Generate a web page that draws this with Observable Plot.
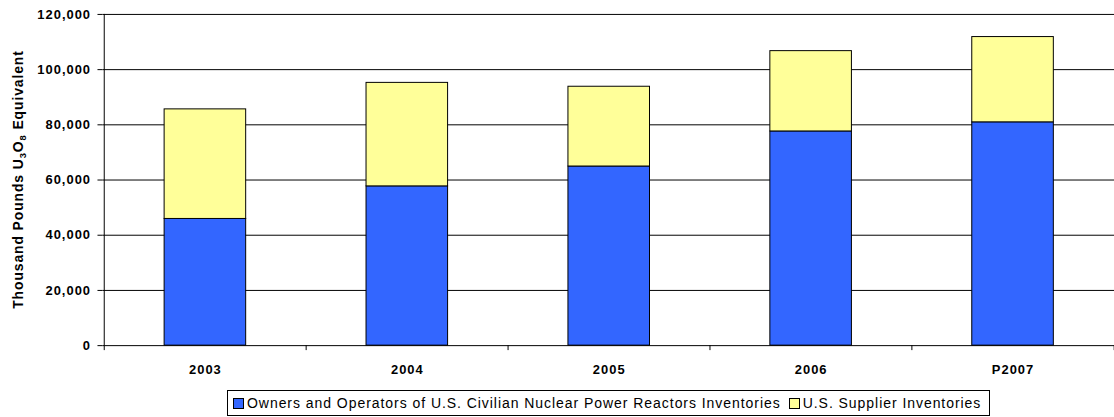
<!DOCTYPE html>
<html>
<head>
<meta charset="utf-8">
<script src="https://cdn.jsdelivr.net/npm/d3@7"></script>
<script src="https://cdn.jsdelivr.net/npm/@observablehq/plot@0.6"></script>
<style>
html, body { margin: 0; padding: 0; overflow: hidden; background: #fff; width: 1114px; height: 417px; }
#chart { position: absolute; left: 0; top: 0; }
#chart svg g text { font-family: "Liberation Sans", Arial, sans-serif !important; font-size: 13px !important; font-weight: bold !important; letter-spacing: 1px; fill: #000; }
#legend { position: absolute; left: 227px; top: 390px; height: 24px; border: 1px solid #000; display: flex; align-items: center; padding: 0 8px 0 5px; font-family: "Liberation Sans", Arial, sans-serif; font-size: 14px; letter-spacing: 0.95px; color: #000; white-space: nowrap; }
.sw { display: inline-block; width: 9px; height: 9px; border: 1px solid #000; margin-right: 3px; }
.item { display: flex; align-items: center; }
.item + .item { margin-left: 8px; }
</style>
</head>
<body>
<div id="chart"></div>
<div id="legend"></div>
<script>
const years = ["2003", "2004", "2005", "2006", "P2007"];
const seriesNames = ["Owners and Operators of U.S. Civilian Nuclear Power Reactors Inventories", "U.S. Supplier Inventories"];
const ownersValues = [45900, 57700, 64900, 77600, 80900];
const supplierValues = [39700, 37500, 28900, 29100, 30900];
const seriesColors = ["#3366FF", "#FFFF99"];
const yTicks = [0, 20000, 40000, 60000, 80000, 100000, 120000];

const data = [];
years.forEach((y, i) => {
  data.push({year: y, series: seriesNames[0], value: ownersValues[i]});
  data.push({year: y, series: seriesNames[1], value: supplierValues[i]});
});

const W = 1120, H = 385, ML = 103, MR = 0, MT = 14, MB = 38;
const step = (W - ML - MR) / years.length;
const frameH = H - MT - MB;
const pad = 0.597;

const chart = Plot.plot({
  width: W,
  height: H,
  marginLeft: ML,
  marginRight: MR,
  marginTop: MT,
  marginBottom: MB,
  style: {fontFamily: "Liberation Sans, Arial, sans-serif", fontSize: "13px", fontWeight: "bold", color: "#000", background: "#fff"},
  x: {domain: years, paddingInner: pad, paddingOuter: pad / 2, tickSize: 0, tickPadding: 19, label: null},
  y: {domain: [0, 120000], ticks: yTicks, tickFormat: d3.format(","), tickSize: 5, tickPadding: 7, label: null},
  color: {domain: seriesNames, range: seriesColors},
  marks: [
    Plot.ruleY(yTicks.filter(d => d > 0), {stroke: "#000", strokeWidth: 1}),
    Plot.barY(data, {x: "year", y: "value", fill: "series", stroke: "#000", strokeWidth: 1}),
    Plot.ruleY([0], {stroke: "#000"}),
    Plot.ruleX([years[0]], {x: d => d, dx: -step / 2, stroke: "#000"}),
    Plot.ruleX(years, {x: d => d, dx: -step / 2, insetTop: frameH - 5, dy: 5, stroke: "#000"}),
    Plot.ruleX([years[years.length - 1]], {x: d => d, dx: step / 2, insetTop: frameH - 5, dy: 5, stroke: "#000"})
  ]
});
document.getElementById("chart").appendChild(chart);

// y-axis title with subscripts (appended directly to the svg, outside any g)
const svg = d3.select(chart);
const t = svg.append("text")
  .attr("class", "ylab")
  .attr("transform", `translate(23,${(MT + H - MB) / 2}) rotate(-90)`)
  .attr("text-anchor", "middle")
  .attr("font-family", "Liberation Sans, Arial, sans-serif")
  .attr("font-size", 14)
  .attr("font-weight", "bold")
  .attr("letter-spacing", "0.9px")
  .attr("fill", "#000");
t.append("tspan").text("Thousand Pounds U");
t.append("tspan").attr("font-size", 9.5).attr("dy", 3).text("3");
t.append("tspan").attr("dy", -3).text("O");
t.append("tspan").attr("font-size", 9.5).attr("dy", 3).text("8");
t.append("tspan").attr("dy", -3).text(" Equivalent");

// legend
const legend = document.getElementById("legend");
seriesNames.forEach((name, i) => {
  const item = document.createElement("span");
  item.className = "item";
  const sw = document.createElement("span");
  sw.className = "sw";
  sw.style.background = seriesColors[i];
  item.appendChild(sw);
  item.appendChild(document.createTextNode(name));
  legend.appendChild(item);
});
</script>
</body>
</html>
